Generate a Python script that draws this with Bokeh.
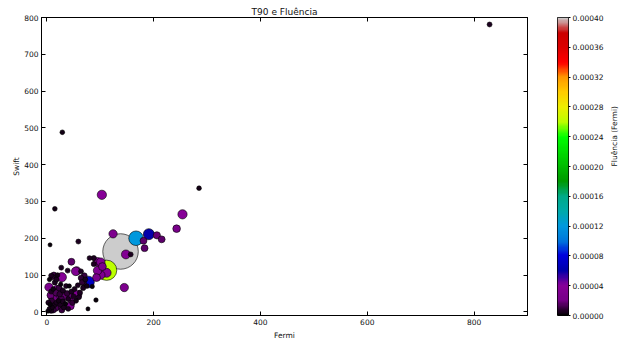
import numpy as np
from bokeh.plotting import figure
from bokeh.models import (ColumnDataSource, Range1d, LinearAxis, FixedTicker,
                          LinearColorMapper, PrintfTickFormatter)
from bokeh.transform import linear_cmap
from bokeh.layouts import row
from bokeh.embed import file_html
from bokeh.resources import INLINE

# ---------------- data ----------------
fermi_t90 = [829, 29, 285, 103, 15, 6, 59, 254, 243, 191, 167, 206, 215, 181, 183, 124,
             138, 148, 157, 112, 112, 104, 95, 88, 101, 93, 78, 85, 69, 70, 64, 56, 46, 27,
             28, 145, 92, 77, 57, 44, 29, 4, 19, 11, 80, 39, 54, 64, 95, 101, 88,
             2, 5, 8, 10, 12, 14, 6, 3, 16, 18, 20, 22, 9, 13, 25, 27, 30, 33, 35, 24,
             17, 8, 12, 23, 30, 38, 40, 43, 46, 50, 36, 26, 15, 10, 13, 8, 20, 5, 18,
             42, 52, 55, 48, 60, 62, 66, 72, 75, 68, 58, 32, 40, 28, 18, 22, 35, 15,
             10, 7, 30, 45]
swift_t90 = [781, 488, 336, 318, 280, 182, 191, 265, 226, 211, 200, 208, 197, 193, 173, 212,
             164, 156, 156, 113, 106, 123, 136, 146, 100, 93, 81, 69, 78, 98, 110, 111, 136, 120,
             94, 66, 32, 8, 46, 16, 46, 67, 60, 39, 146, 112, 110, 92, 112, 135, 130,
             2, 8, 3, 12, 5, 18, 20, 25, 10, 25, 15, 30, 30, 35, 20, 35, 28, 40, 22, 48,
             52, 55, 62, 65, 58, 50, 35, 45, 55, 42, 70, 75, 80, 95, 100, 98, 100, 88, 88,
             70, 62, 30, 25, 40, 52, 80, 88, 70, 65, 72, 12, 8, 5, 40, 55, 45, 45,
             22, 45, 18, 36]
fluence = [5e-6, 4e-6, 4e-6, 3.8e-5, 4e-6, 2e-6, 5e-6, 3.8e-5, 2.2e-5, 6.0e-5, 1.2e-4,
           1.8e-5, 1.6e-5, 1.6e-5, 1.6e-5, 2.8e-5,
           9.0e-4, 3.4e-5, 5e-6, 2.6e-4, 3.4e-5, 2.4e-5, 3.0e-5, 6e-6, 3.0e-5, 2.4e-5,
           7.0e-5, 3e-6, 8e-6, 1.0e-5, 5e-6, 3.0e-5, 1.6e-5, 5e-6,
           3.8e-5, 2.8e-5, 3e-6, 2e-6, 3.4e-5, 2.4e-5, 5.5e-5, 2.8e-5, 3.4e-5, 3.0e-5,
           5e-6, 5e-6, 3.0e-5, 8e-6, 3.0e-5, 3.0e-5, 6e-6,
           3e-6, 5e-6, 6e-6, 4e-6, 1.0e-5, 5e-6, 3e-6, 6e-6, 1.4e-5, 5e-6,
           1.6e-5, 4e-6, 8e-6, 2.0e-5, 5e-6, 1.2e-5, 5e-6, 1.8e-5, 3e-6, 8e-6,
           1.4e-5, 5e-6, 4e-6, 1.0e-5, 6e-6, 8e-6, 5e-6, 2.0e-5, 6e-6, 5e-6,
           5e-6, 3e-6, 6e-6, 8e-6, 1.0e-5, 5e-6, 4e-6, 3e-6, 6e-6,
           3e-6, 5e-6, 4e-6, 8e-6, 6e-6, 6e-6, 8e-6, 5e-6, 4e-6, 6e-6,
           5e-6, 6e-6, 5e-6, 1.0e-5, 3.0e-5, 2.4e-5, 2.8e-5, 2.6e-5,
           2.2e-5, 1.8e-5, 1.8e-5, 3.0e-5]

x_ticks = [0, 200, 400, 600, 800]
y_ticks = [0, 100, 200, 300, 400, 500, 600, 700, 800]
cbar_ticks = [0.0, 0.00004, 0.00008, 0.00012, 0.00016, 0.00020,
              0.00024, 0.00028, 0.00032, 0.00036, 0.00040]
f_low, f_high = 0.0, 0.0004

# ---------------- nipy_spectral palette ----------------
_ns = {
    'red': [(0.0, 0.0), (0.05, 0.4667), (0.10, 0.5333), (0.15, 0.0), (0.20, 0.0), (0.25, 0.0),
            (0.30, 0.0), (0.35, 0.0), (0.40, 0.0), (0.45, 0.0), (0.50, 0.0), (0.55, 0.0),
            (0.60, 0.0), (0.65, 0.7333), (0.70, 0.9333), (0.75, 1.0), (0.80, 1.0), (0.85, 1.0),
            (0.90, 0.8667), (0.95, 0.80), (1.0, 0.80)],
    'green': [(0.0, 0.0), (0.05, 0.0), (0.10, 0.0), (0.15, 0.0), (0.20, 0.0), (0.25, 0.4667),
              (0.30, 0.6), (0.35, 0.6667), (0.40, 0.6667), (0.45, 0.6), (0.50, 0.7333),
              (0.55, 0.8667), (0.60, 1.0), (0.65, 1.0), (0.70, 0.9333), (0.75, 0.8), (0.80, 0.6),
              (0.85, 0.0), (0.90, 0.0), (0.95, 0.0), (1.0, 0.80)],
    'blue': [(0.0, 0.0), (0.05, 0.5333), (0.10, 0.6), (0.15, 0.6667), (0.20, 0.8667),
             (0.25, 0.8667), (0.30, 0.8667), (0.35, 0.6667), (0.40, 0.5333), (0.45, 0.0),
             (0.5, 0.0), (0.55, 0.0), (0.60, 0.0), (0.65, 0.0), (0.70, 0.0), (0.75, 0.0),
             (0.80, 0.0), (0.85, 0.0), (0.90, 0.0), (0.95, 0.0), (1.0, 0.80)],
}
t = np.linspace(0, 1, 256)
chan = {k: np.interp(t, [a for a, _ in v], [b for _, b in v]) for k, v in _ns.items()}
palette = ["#%02x%02x%02x" % (int(round(r * 255)), int(round(g * 255)), int(round(b * 255)))
           for r, g, b in zip(chan['red'], chan['green'], chan['blue'])]

# ---------------- source ----------------
order = np.argsort(-np.array(fluence), kind="stable")
fx = np.array(fermi_t90, dtype=float)[order]
sy = np.array(swift_t90, dtype=float)[order]
fl = np.array(fluence)[order]
source = ColumnDataSource(dict(x=fx, y=sy, f=fl, size=2.5 + 1100 * np.sqrt(fl)))

FONT = "DejaVu Sans"
TXT = "#111111"

p = figure(width=540, height=342, x_range=Range1d(-10, 900), y_range=Range1d(-10, 800),
           title="T90 e Fluência", output_backend="svg", toolbar_location=None,
           min_border_left=41, min_border_right=13, min_border_top=17, min_border_bottom=25)
p.title.text_font = FONT
p.title.text_font_size = "9px"
p.title.text_font_style = "normal"
p.title.align = "center"
p.title.standoff = 1
p.title.text_color = TXT
p.grid.visible = False
p.outline_line_color = "black"
p.outline_line_width = 1
p.background_fill_color = "white"
p.border_fill_color = "white"

p.scatter("x", "y", source=source, size="size",
          fill_color=linear_cmap("f", palette, f_low, f_high, low_color=palette[0], high_color=palette[-1]),
          line_color="black", line_width=0.6)

for ax in (p.xaxis[0], p.yaxis[0]):
    ax.major_label_text_font = FONT
    ax.major_label_text_font_size = "7.5px"
    ax.major_label_text_color = TXT
    ax.axis_label_text_font = FONT
    ax.axis_label_text_font_size = "7.5px"
    ax.axis_label_text_font_style = "normal"
    ax.axis_label_text_color = TXT
    ax.major_tick_in = 4
    ax.major_tick_out = 0
    ax.minor_tick_line_color = None
    ax.axis_line_color = "black"
    ax.major_tick_line_color = "black"
    ax.major_label_standoff = 3

p.xaxis[0].ticker = FixedTicker(ticks=x_ticks)
p.yaxis[0].ticker = FixedTicker(ticks=y_ticks)
p.xaxis[0].axis_label = "Fermi"
p.yaxis[0].axis_label = "Swift"
p.xaxis[0].axis_label_standoff = 3
p.yaxis[0].axis_label_standoff = 0

# tick-only axes on top/right (like matplotlib classic); their labels are not drawn
for loc, ticks in (("above", x_ticks), ("right", y_ticks)):
    a = LinearAxis(ticker=FixedTicker(ticks=ticks), major_label_text_color=None,
                   major_label_text_font_size="1px",
                   major_tick_in=4, major_tick_out=0, minor_tick_line_color=None,
                   axis_line_color="black", major_label_standoff=0)
    p.add_layout(a, loc)

# ---------------- colour bar as its own small figure ----------------
mapper = LinearColorMapper(palette=palette, low=f_low, high=f_high)
cb = figure(width=86, height=342, x_range=Range1d(0, 1), y_range=Range1d(f_low, f_high),
            output_backend="svg", toolbar_location=None, x_axis_location=None,
            y_axis_location="right", min_border_left=17, min_border_right=54,
            min_border_top=17, min_border_bottom=25)
cb.grid.visible = False
cb.outline_line_color = "black"
grad = np.linspace(f_low, f_high, 256).reshape(256, 1)
cb.image(image=[grad], x=0, y=f_low, dw=1, dh=f_high - f_low, color_mapper=mapper)
ya = cb.yaxis[0]
ya.ticker = FixedTicker(ticks=cbar_ticks)
ya.formatter = PrintfTickFormatter(format="%.5f")
ya.major_label_text_font = FONT
ya.major_label_text_font_size = "7.5px"
ya.major_label_text_color = TXT
ya.major_tick_in = 0
ya.major_tick_out = 2
ya.minor_tick_line_color = None
ya.axis_line_color = None
ya.major_label_standoff = 2
ya.axis_label = "Fluência (Fermi)"
ya.axis_label_text_font = FONT
ya.axis_label_text_font_size = "7.5px"
ya.axis_label_text_font_style = "normal"
ya.axis_label_text_color = TXT
ya.axis_label_standoff = 8
ya.axis_label_orientation = np.pi / 2

layout = row(p, cb, spacing=0)
open("out.html", "w").write(file_html(layout, INLINE))
